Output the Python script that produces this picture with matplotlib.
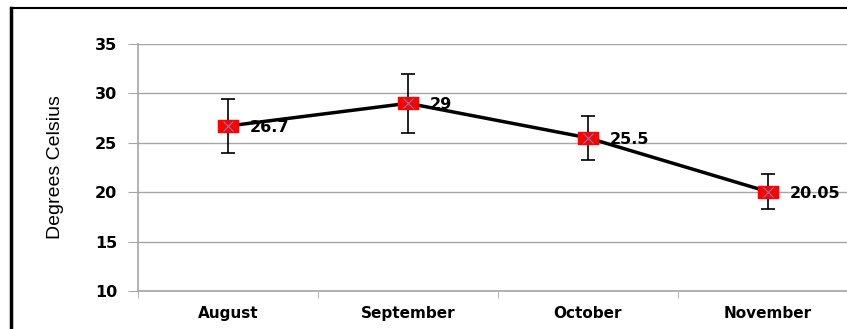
import matplotlib.pyplot as plt
from matplotlib.lines import Line2D

months = ["August", "September", "October", "November"]
temps = [26.7, 29, 25.5, 20.05]
errs = [2.7, 3.0, 2.2, 1.8]
labels = ["26.7", "29", "25.5", "20.05"]

fig = plt.figure(figsize=(8.47, 3.29), dpi=100)
W, H = 847, 329
# plot area runs past the right edge of the picture (cropped like the original)
ax = fig.add_axes([138 / W, (H - 291) / H, 720 / W, 247 / H])

x = list(range(len(months)))
ax.errorbar(x, temps, yerr=errs, fmt="none", ecolor="black", elinewidth=1.2,
            capsize=5, capthick=1.2, zorder=3)
ax.plot(x, temps, color="black", lw=2.5, zorder=4)
box = [(-1.7, -1), (1.7, -1), (1.7, 1), (-1.7, 1), (-1.7, -1)]
ax.plot(x, temps, ls="none", marker=box, markersize=14, markerfacecolor="#ff0000",
        markeredgecolor="#ff0000", zorder=5)
ax.plot(x, temps, ls="none", marker="x", markersize=7, markeredgecolor="#6a86b8",
        markeredgewidth=0.8, zorder=6)

for xi, yi, lab in zip(x, temps, labels):
    ax.annotate(lab, (xi, yi), xytext=(16, -1), textcoords="offset points",
                ha="left", va="center", fontsize=11.5, fontweight="bold", zorder=7)

ax.set_xlim(-0.5, 3.5)
ax.set_ylim(10, 35)
ax.set_yticks([10, 15, 20, 25, 30, 35])
ax.yaxis.grid(True, color="#a6a6a6", lw=1)
ax.set_axisbelow(True)

ax.set_xticks(x)
ax.set_xticklabels(months, fontsize=11, fontweight="bold")
ax.set_xticks([-0.5, 0.5, 1.5, 2.5, 3.5], minor=True)
ax.tick_params(axis="x", which="major", length=0, pad=11)
ax.tick_params(axis="x", which="minor", length=5, color="#a6a6a6")
ax.tick_params(axis="y", length=7, color="#a6a6a6", labelsize=11.5, pad=8)
for t in ax.get_yticklabels():
    t.set_fontweight("bold")

for s in ["top", "right"]:
    ax.spines[s].set_visible(False)
for s in ["left", "bottom"]:
    ax.spines[s].set_color("#a6a6a6")
    ax.spines[s].set_linewidth(1.2)

ax.set_ylabel("Degrees Celsius", fontsize=14, family=["Liberation Sans", "DejaVu Sans"],
              labelpad=22)

# outer frame lines
fig.add_artist(Line2D([11 / W, 1], [1 - 8 / H, 1 - 8 / H], color="black", lw=1.5,
                      transform=fig.transFigure))
fig.add_artist(Line2D([11 / W, 11 / W], [0, 1 - 8 / H], color="black", lw=2.5,
                      transform=fig.transFigure))

fig.savefig("out.png", dpi=100)
